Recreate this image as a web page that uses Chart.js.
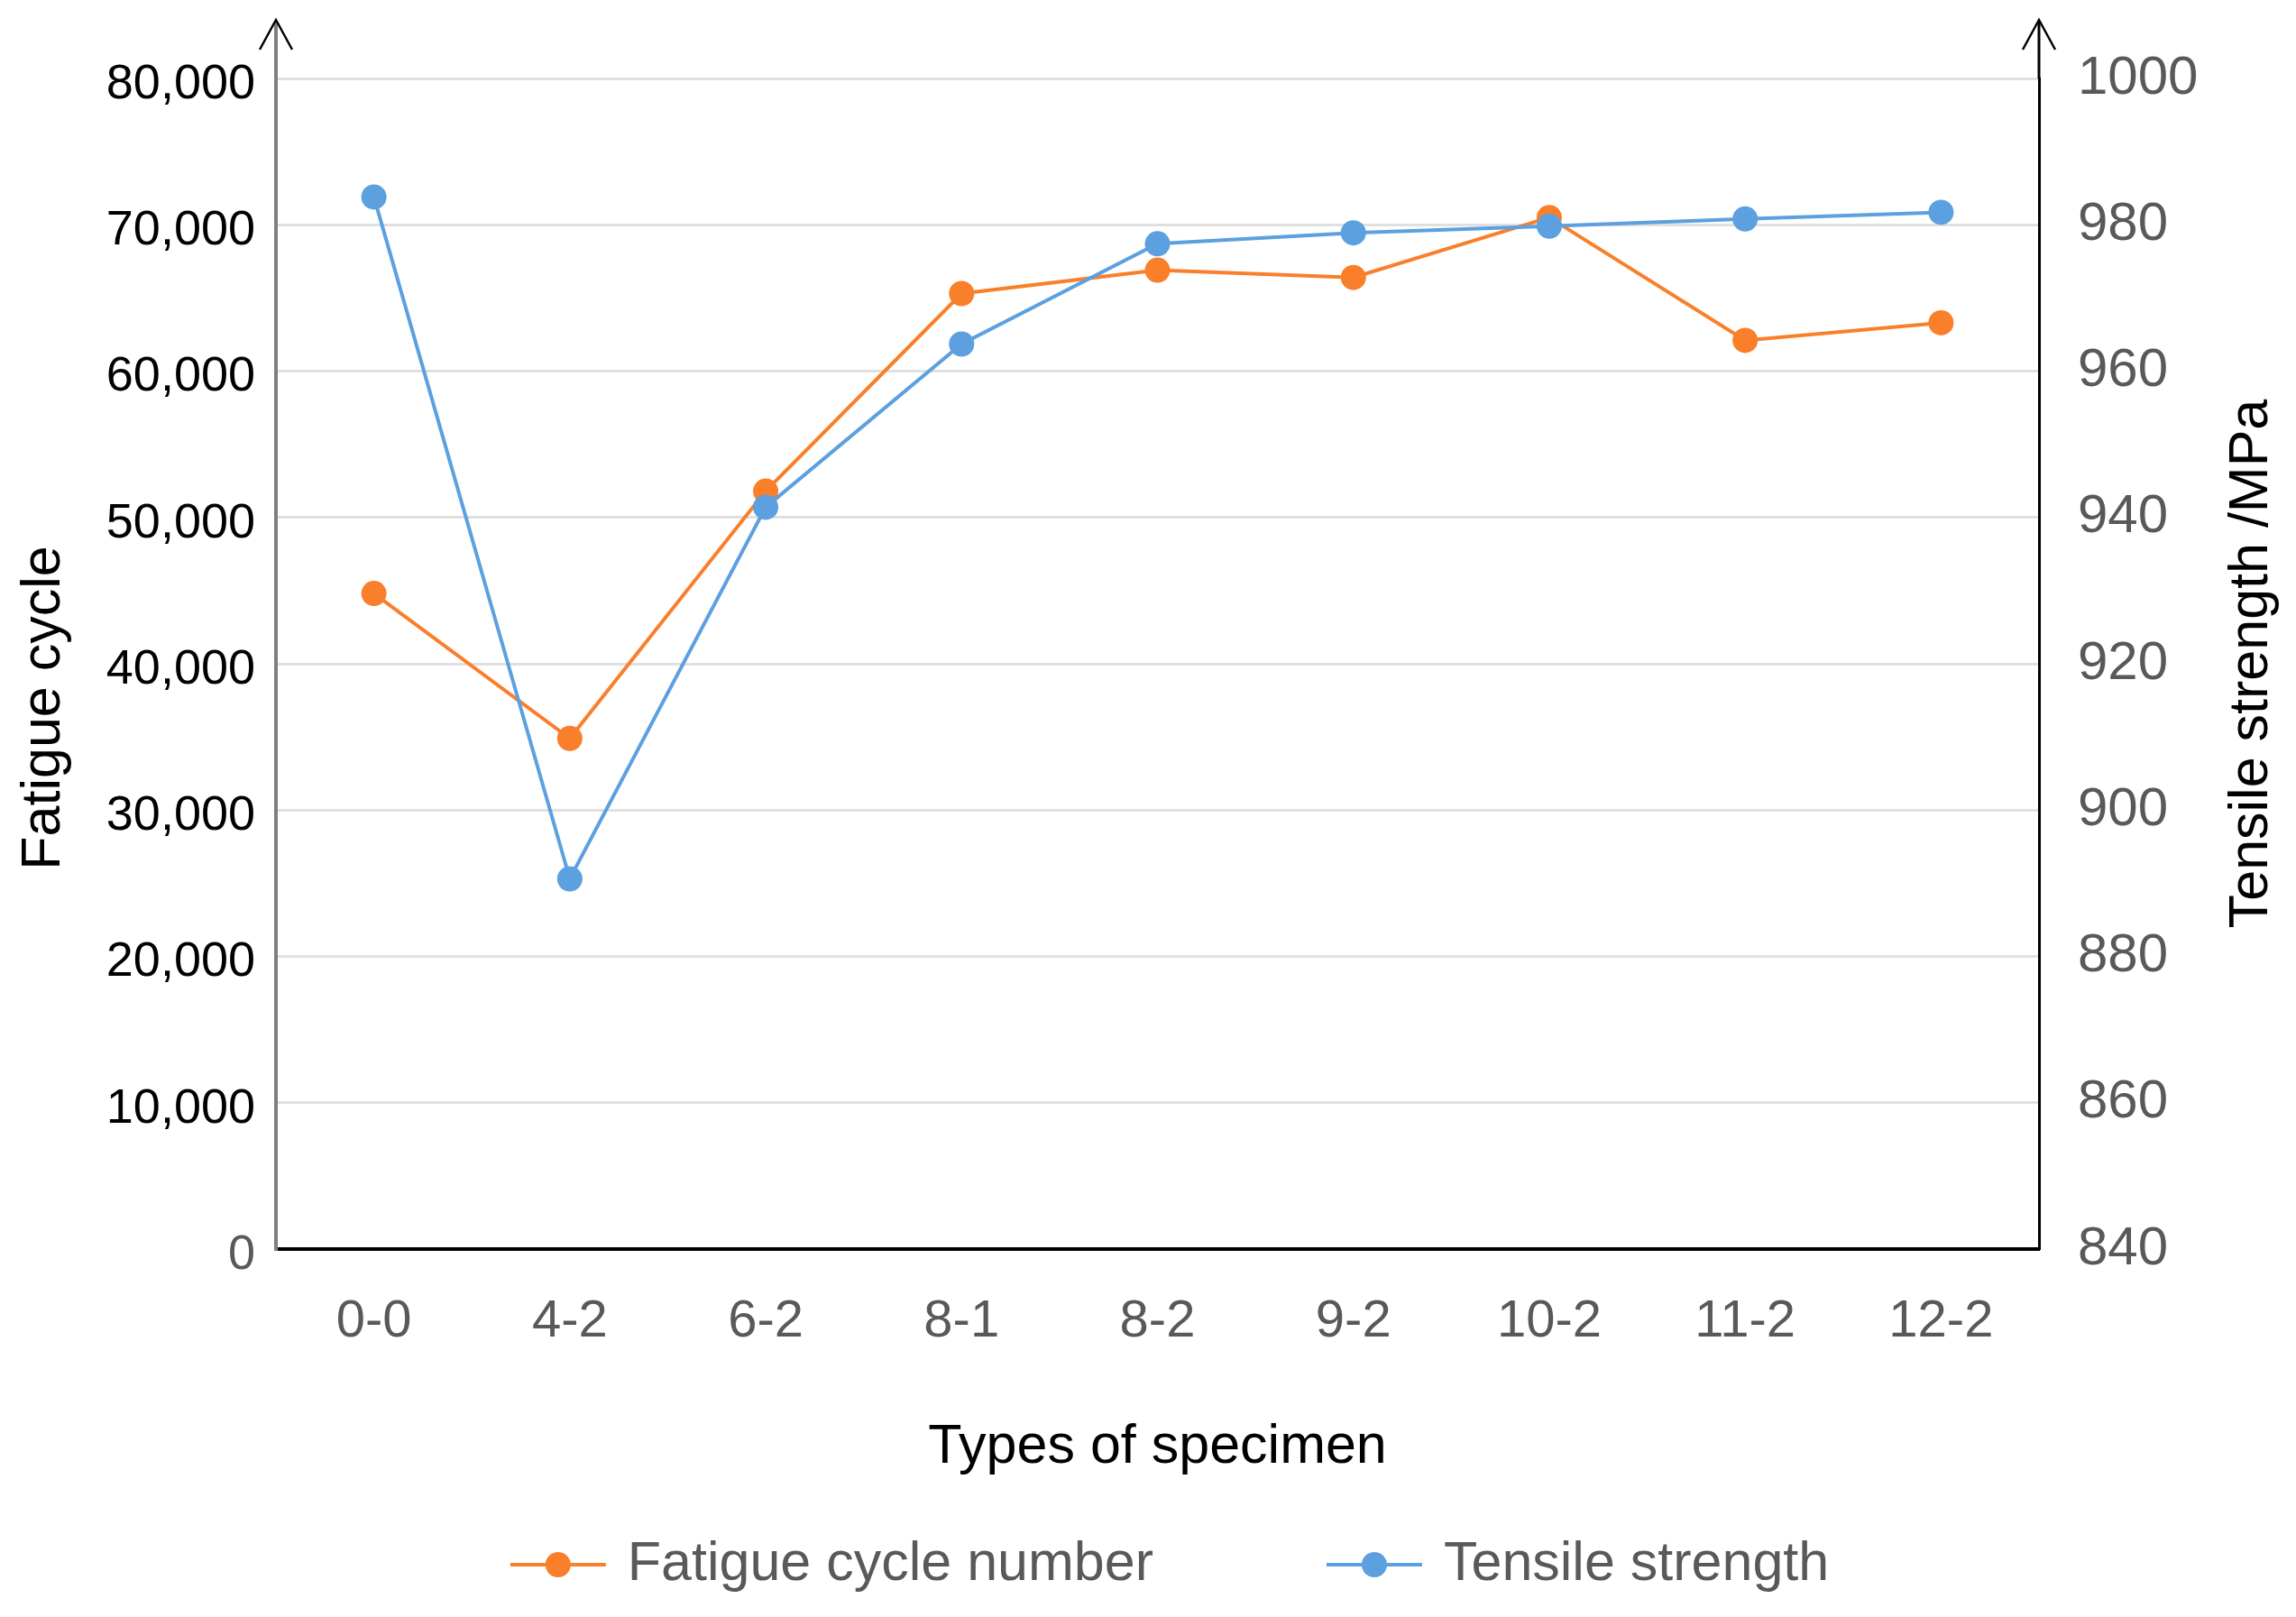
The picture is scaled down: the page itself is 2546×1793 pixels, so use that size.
<!DOCTYPE html>
<html>
<head>
<meta charset="utf-8">
<script src="https://cdn.jsdelivr.net/npm/chart.js@4"></script>
<style>
  html, body { margin: 0; padding: 0; background: #fff; }
  #wrap { width: 2546px; height: 1793px; }
</style>
</head>
<body>
<div id="wrap"><canvas id="chart1" width="2546" height="1793"></canvas></div>
<script>
// donnees
var categories = ['0-0', '4-2', '6-2', '8-1', '8-2', '9-2', '10-2', '11-2', '12-2'];
var fatigueCycles = [44800, 34900, 51800, 65300, 66900, 66400, 70500, 62100, 63300];
var tensileStrength = [983.8, 890.6, 941.4, 963.7, 977.4, 978.9, 979.8, 980.8, 981.7];

var orange = '#F97F2B';
var blue = '#5CA0E0';
var font = 'Liberation Sans, Arial, sans-serif';

// fleches, titres des axes y et legende dessines apres le graphe
var decorPlugin = {
  id: 'decor',
  afterDraw: function(chart) {
    var ctx = chart.ctx;
    var area = chart.chartArea;
    ctx.save();

    // prolongement des axes y jusqu'a la fleche
    ctx.lineWidth = 4;
    ctx.strokeStyle = '#7f7f7f';
    ctx.beginPath();
    ctx.moveTo(area.left, area.top);
    ctx.lineTo(area.left, 24);
    ctx.stroke();
    ctx.lineWidth = 3;
    ctx.strokeStyle = '#000';
    ctx.beginPath();
    ctx.moveTo(area.right, area.top);
    ctx.lineTo(area.right, 24);
    ctx.stroke();

    // pointes de fleche
    ctx.lineWidth = 2.5;
    ctx.strokeStyle = '#000';
    [area.left, area.right].forEach(function(x) {
      ctx.beginPath();
      ctx.moveTo(x - 18, 55);
      ctx.lineTo(x, 22);
      ctx.lineTo(x + 18, 55);
      ctx.stroke();
    });

    // titres des axes y (lus de bas en haut)
    ctx.fillStyle = '#000';
    ctx.font = '61px ' + font;
    ctx.textAlign = 'center';
    ctx.textBaseline = 'middle';
    ctx.save();
    ctx.translate(49, 785);
    ctx.rotate(-Math.PI / 2);
    ctx.fillText('Fatigue cycle', 0, 0);
    ctx.restore();
    ctx.save();
    ctx.translate(2497, (area.top + area.bottom) / 2);
    ctx.rotate(-Math.PI / 2);
    ctx.fillText('Tensile strength /MPa', 0, 0);
    ctx.restore();

    // legende
    var ds = chart.data.datasets;
    var legendY = 1735;
    var boxW = 106, gapText = 24, gapItem = 192;
    ctx.font = '61px ' + font;
    var widths = ds.map(function(d) { return boxW + gapText + ctx.measureText(d.label).width; });
    var total = widths[0] + gapItem + widths[1];
    var x = 1297 - total / 2;
    ds.forEach(function(d, i) {
      ctx.strokeStyle = d.borderColor;
      ctx.lineWidth = 4;
      ctx.beginPath();
      ctx.moveTo(x, legendY);
      ctx.lineTo(x + boxW, legendY);
      ctx.stroke();
      ctx.fillStyle = d.borderColor;
      ctx.beginPath();
      ctx.arc(x + boxW / 2, legendY, 14, 0, Math.PI * 2);
      ctx.fill();
      ctx.fillStyle = '#595959';
      ctx.textAlign = 'left';
      ctx.textBaseline = 'middle';
      ctx.fillText(d.label, x + boxW + gapText, legendY);
      x += widths[i] + gapItem;
    });

    ctx.restore();
  }
};

var ctx = document.getElementById('chart1').getContext('2d');
var myChart = new Chart(ctx, {
  type: 'line',
  data: {
    labels: categories,
    datasets: [{
      label: 'Fatigue cycle number',
      data: fatigueCycles,
      yAxisID: 'y',
      borderColor: orange,
      backgroundColor: orange,
      pointBackgroundColor: orange,
      pointBorderColor: orange,
      borderWidth: 4,
      pointRadius: 14,
      pointBorderWidth: 0,
      order: 1
    }, {
      label: 'Tensile strength',
      data: tensileStrength,
      yAxisID: 'y1',
      borderColor: blue,
      backgroundColor: blue,
      pointBackgroundColor: blue,
      pointBorderColor: blue,
      borderWidth: 4,
      pointRadius: 14,
      pointBorderWidth: 0,
      order: 0
    }]
  },
  options: {
    responsive: false,
    devicePixelRatio: 1,
    animation: false,
    layout: { padding: { top: 87, left: 0, right: 0, bottom: 130 } },
    plugins: {
      legend: { display: false },
      tooltip: { enabled: false }
    },
    scales: {
      x: {
        offset: true,
        grid: { display: false, drawTicks: false },
        border: { color: '#000', width: 4 },
        ticks: { color: '#595959', font: { family: font, size: 58 }, padding: 46 },
        title: {
          display: true,
          text: 'Types of specimen',
          color: '#000',
          font: { family: font, size: 61 },
          padding: { top: 0, bottom: 21 }
        },
        afterFit: function(scale) { scale.height = 278; }
      },
      y: {
        position: 'left',
        min: 0,
        max: 80000,
        grid: { color: '#e0e0e0', lineWidth: 3, drawTicks: false },
        border: { color: '#7f7f7f', width: 4 },
        ticks: {
          stepSize: 10000,
          color: function(c) { return c.tick && c.tick.value === 0 ? '#595959' : '#000'; },
          padding: 23,
          labelOffset: 7,
          font: { family: font, size: 54 },
          callback: function(v) { return v.toLocaleString('en-US'); }
        },
        afterFit: function(scale) { scale.width = 306; }
      },
      y1: {
        position: 'right',
        min: 840,
        max: 1000,
        grid: { display: false, drawTicks: false },
        border: { color: '#000', width: 3 },
        ticks: {
          stepSize: 20,
          color: '#595959',
          padding: 43,
          font: { family: font, size: 60 },
          callback: function(v) { return String(v); }
        },
        afterFit: function(scale) { scale.width = 285; }
      }
    }
  },
  plugins: [decorPlugin]
});
</script>
</body>
</html>
